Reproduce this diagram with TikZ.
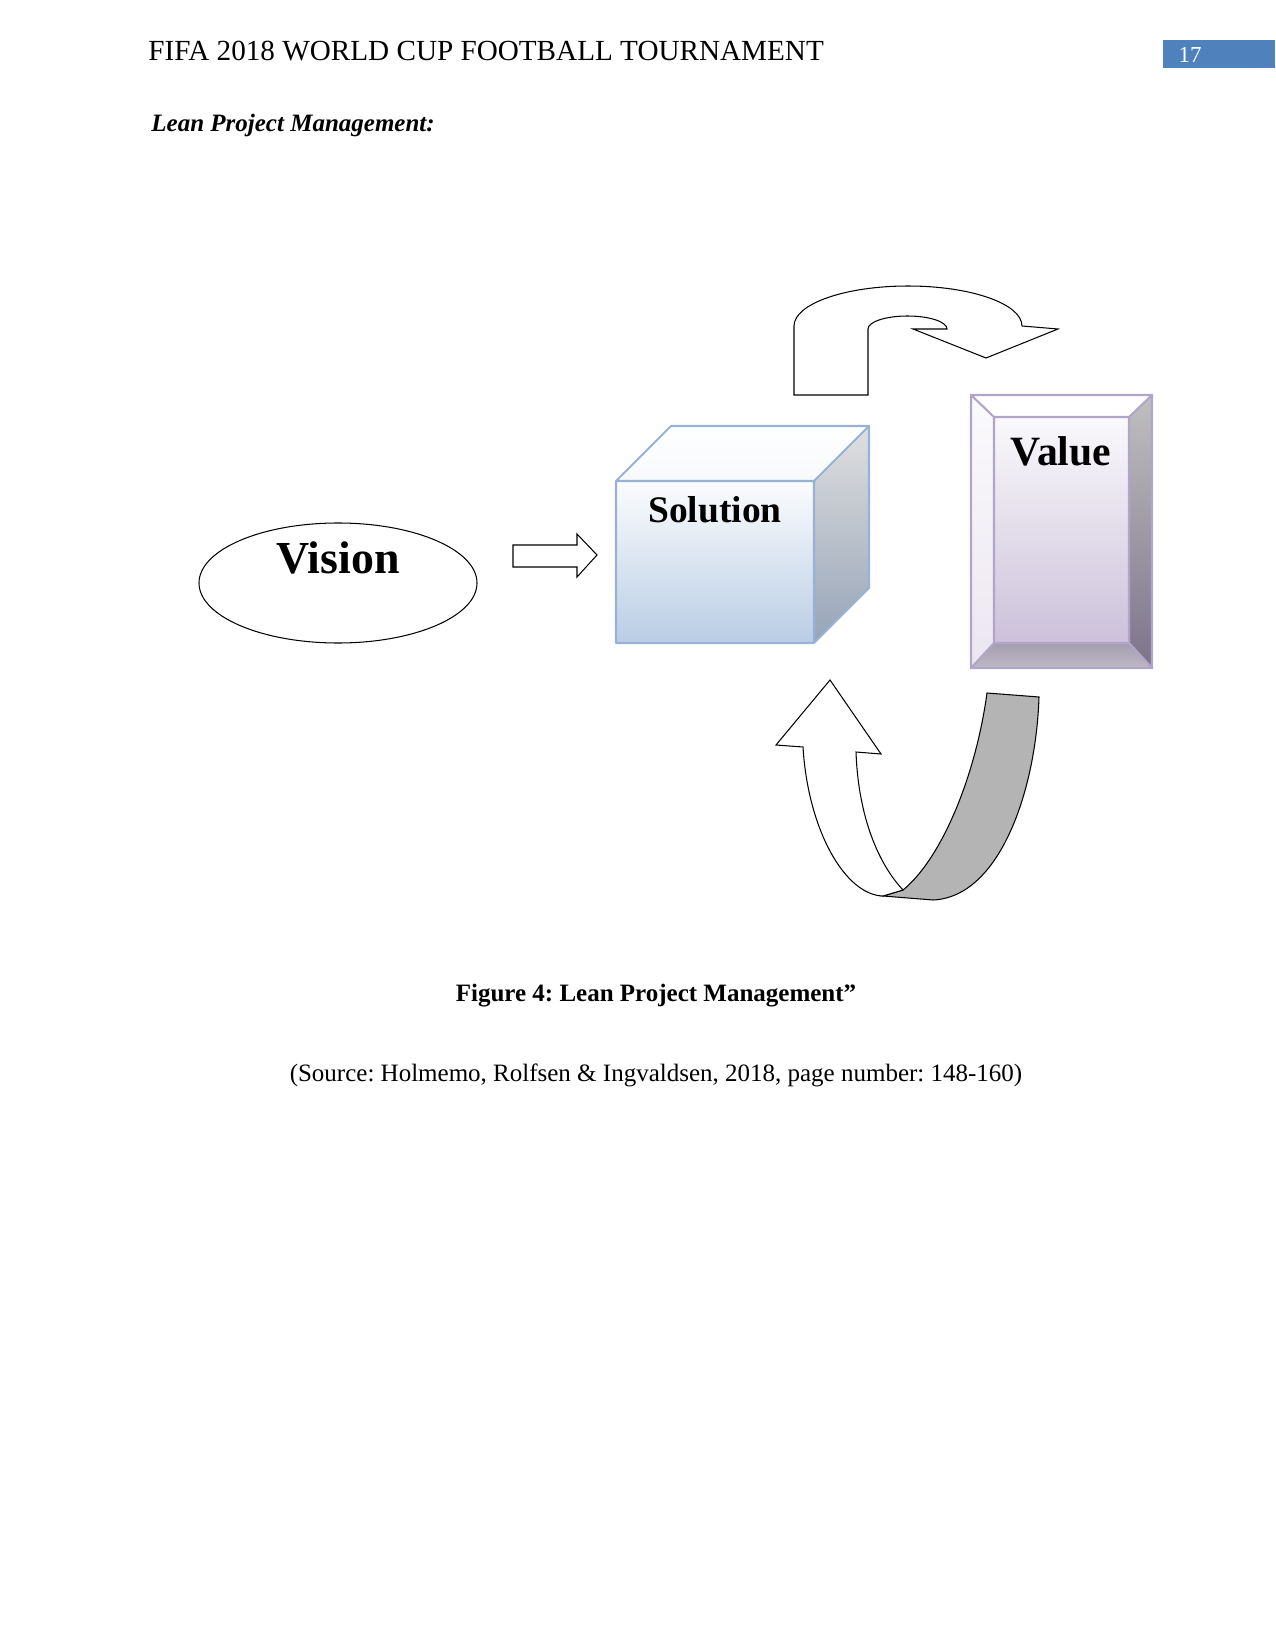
\documentclass[tikz,border=0pt]{standalone}
\usepackage{fontspec}
\setmainfont{Liberation Serif}
\usetikzlibrary{calc}
\frenchspacing
\definecolor{pageblue}{RGB}{79,129,189}
\definecolor{cubeEdge}{RGB}{150,178,214}
\definecolor{cubeTop}{RGB}{185,205,229}
\definecolor{cubeSide}{RGB}{150,164,184}
\definecolor{valEdge}{RGB}{178,166,200}
\definecolor{valFace}{RGB}{204,193,218}
\definecolor{valDark}{RGB}{125,115,140}
\definecolor{bandGray}{RGB}{180,180,180}
\begin{document}
\begin{tikzpicture}[
  x=0.48pt, y=-0.48pt,
  outline/.style={draw=black, line width=0.5pt, line join=miter},
  boxtext/.style={font=\fontsize{#1}{#1}\selectfont\bfseries, inner sep=0pt},
  plain/.style={font=\fontsize{#1}{#1}\selectfont, inner sep=0pt}
]
\useasboundingbox (0,0) rectangle (1275,1650);

% page header
\node[plain=14, anchor=base west] (header) at (148,61) {FIFA 2018 WORLD CUP FOOTBALL TOURNAMENT};
\fill[pageblue] (1163,40) rectangle (1275,68);
\node[plain=11, text=white] (pagenum) at (1190,54.5) {17};
\node[plain=12, anchor=base west, font=\fontsize{12}{12}\selectfont\bfseries\itshape] (heading) at (151,131.5) {Lean Project Management:};

% vision
\draw[outline] (338,583) ellipse [x radius=139, y radius=60];
\node[boxtext=22] (vision) at (338,558) {Vision};
\draw[outline, fill=white] (513,545) -- (577,545) -- (577,534) -- (597,555) -- (577,577) -- (577,567) -- (513,567) -- cycle;

% solution cube
\def\dx{55}
\def\dy{-55}
\shade[top color=white!95!cubeTop, bottom color=cubeTop] (616,481) rectangle (814,643);
\shade[top color=white, bottom color=white!88!cubeTop] (616,481) -- ++(\dx,\dy) -- (869,426) -- (814,481) -- cycle;
\shade[top color=white!75!gray, bottom color=cubeSide] (814,481) -- (869,426) -- (869,588) -- (814,643) -- cycle;
\draw[cubeEdge, line width=1pt, line join=round] (616,481) rectangle (814,643)
  (616,481) -- (671,426) -- (869,426) -- (814,481)
  (869,426) -- (869,588) -- (814,643);
\node[boxtext=18] (solution) at (715,510) {Solution};

% value block
\shade[top color=white!90!valFace, bottom color=valFace] (994,417) rectangle (1129,643);
\fill[white] (971,395) -- (1152,395) -- (1129,417) -- (994,417) -- cycle;
\shade[top color=white!92!valFace, bottom color=white!60!valFace] (971,395) -- (994,417) -- (994,643) -- (971,668) -- cycle;
\shade[top color=white!50!gray, bottom color=valDark] (1152,395) -- (1152,668) -- (1129,643) -- (1129,417) -- cycle;
\shade[top color=white!30!valDark, bottom color=white!50!valDark] (971,668) -- (994,643) -- (1129,643) -- (1152,668) -- cycle;
\draw[valEdge, line width=1pt] (971,395) rectangle (1152,668)
  (994,417) rectangle (1129,643)
  (971,395) -- (994,417) (1152,395) -- (1129,417)
  (971,668) -- (994,643) (1152,668) -- (1129,643);
\node[boxtext=20] (value) at (1061,451) {Value};

% turn arrow over the top
\draw[outline, fill=white] (794,395) -- (794,326)
  arc[start angle=180, end angle=360, x radius=114, y radius=40]
  -- (1058,329) -- (986,358) -- (913,329) -- (947,329)
  arc[start angle=0, end angle=-180, x radius=39.5, y radius=13]
  -- (868,395) -- cycle;

% u-turn arrow below
\draw[outline, fill=bandGray] (987,693) -- (1039,697)
  .. controls (1036,790) and (1000,897) .. (933,900) -- (883,896) -- (903,890)
  .. controls (940,860) and (975,780) .. (987,693) -- cycle;
\draw[outline, fill=white] (830,680) -- (881,754) -- (856,752)
  .. controls (858,810) and (875,860) .. (903,890) -- (883,896)
  .. controls (845,895) and (808,830) .. (803,747) -- (776,745) -- cycle;

% caption
\node[boxtext=12, anchor=base] (caption) at (656,1001) {Figure 4: Lean Project Management”};
\node[plain=12, anchor=base] (source) at (656,1081) {(Source: Holmemo, Rolfsen \& Ingvaldsen, 2018, page number: 148-160)};
\end{tikzpicture}
\end{document}
